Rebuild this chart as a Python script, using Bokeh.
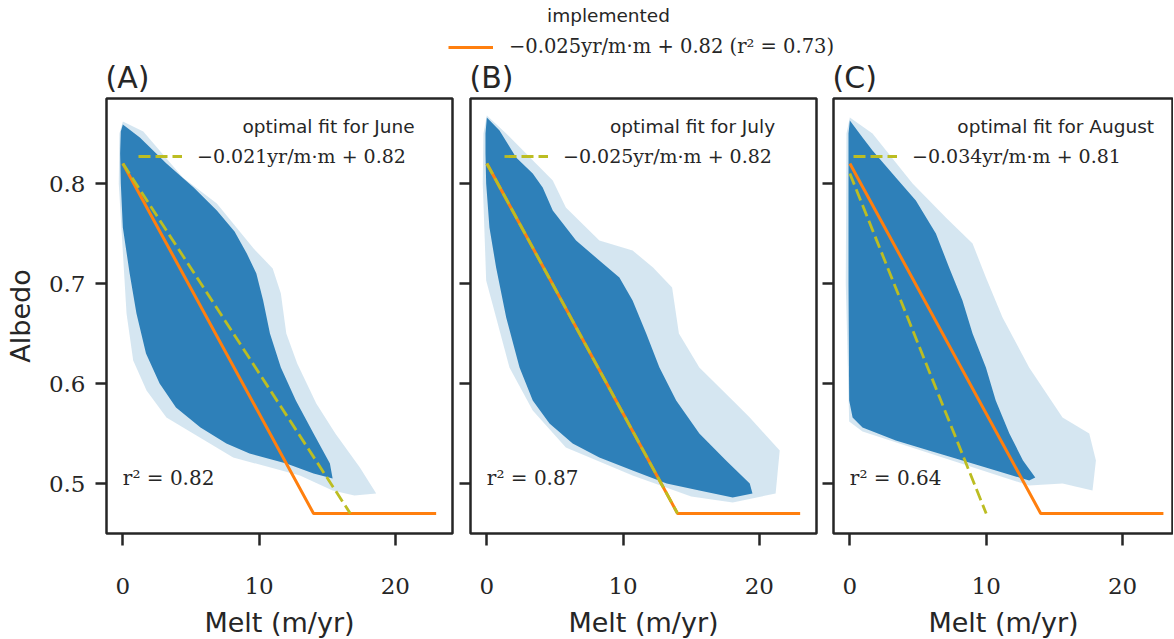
from bokeh.plotting import figure
from bokeh.layouts import row, column
from bokeh.models import Label, Legend, LegendItem, Range1d, FixedTicker
from bokeh.embed import file_html
from bokeh.resources import INLINE

# ---------------- data ----------------
panel_tags = ["(A)", "(B)", "(C)"]
months = ["June", "July", "August"]
r2_values = ["0.82", "0.87", "0.64"]
fit_labels = ["\u22120.021yr/m\u00b7m + 0.82", "\u22120.025yr/m\u00b7m + 0.82", "\u22120.034yr/m\u00b7m + 0.81"]
implemented_label = "\u22120.025yr/m\u00b7m + 0.82 (r\u00b2 = 0.73)"

# implemented parameterisation (orange)
impl_melt = [0, 14, 23]
impl_albedo = [0.82, 0.47, 0.47]

# optimal monthly fits (dashed)
fit_june_melt = [0, 16.7]
fit_june_albedo = [0.82, 0.47]
fit_july_melt = [0, 14.0]
fit_july_albedo = [0.82, 0.47]
fit_aug_melt = [0, 10.0]
fit_aug_albedo = [0.81, 0.47]

# outline of the dense part of each point cloud
core_june_melt = [-0.15, 0.0, 1.25, 3.2, 5.2, 6.9, 8.2, 9.1, 9.8, 10.3, 10.8, 11.6, 12.7, 14.0, 15.2, 15.4, 14.0, 12.0, 9.3, 7.6, 5.7, 3.9, 2.7, 1.7, 1.0, 0.5, 0.0, -0.15, -0.2]
core_june_albedo = [0.852, 0.859, 0.846, 0.820, 0.796, 0.773, 0.752, 0.730, 0.710, 0.683, 0.650, 0.616, 0.583, 0.550, 0.520, 0.505, 0.510, 0.520, 0.530, 0.540, 0.556, 0.576, 0.600, 0.630, 0.670, 0.710, 0.756, 0.800, 0.830]
# outline of the sparse halo of each point cloud
halo_june_melt = [-0.25, 0.0, 1.5, 4.4, 6.9, 9.6, 11.0, 11.6, 12.0, 12.8, 14.2, 15.6, 17.4, 18.6, 17.0, 15.4, 13.0, 8.1, 5.65, 3.2, 1.74, 0.76, 0.27, -0.3]
halo_june_albedo = [0.850, 0.862, 0.852, 0.806, 0.780, 0.735, 0.715, 0.690, 0.650, 0.620, 0.580, 0.550, 0.516, 0.490, 0.488, 0.493, 0.508, 0.526, 0.546, 0.566, 0.593, 0.623, 0.670, 0.800]

core_july_melt = [-0.1, 0.0, 0.93, 2.15, 3.37, 4.1, 4.84, 6.55, 8.26, 9.73, 10.7, 11.7, 12.67, 13.9, 15.6, 17.56, 19.3, 19.5, 18.05, 15.6, 13.2, 10.7, 8.26, 6.3, 4.6, 3.37, 2.4, 1.42, 0.68, 0.19, -0.05, -0.1]
core_july_albedo = [0.850, 0.866, 0.853, 0.826, 0.810, 0.796, 0.773, 0.743, 0.723, 0.706, 0.683, 0.650, 0.616, 0.583, 0.550, 0.523, 0.500, 0.490, 0.486, 0.493, 0.500, 0.513, 0.526, 0.540, 0.560, 0.583, 0.616, 0.666, 0.716, 0.756, 0.800, 0.830]
halo_july_melt = [-0.25, 0.0, 1.42, 4.84, 5.8, 8.26, 10.7, 12.2, 13.6, 14.1, 15.6, 18.05, 19.3, 21.5, 21.2, 18.05, 15.0, 10.7, 5.8, 3.37, 1.66, 0.68, -0.05, -0.3]
halo_july_albedo = [0.850, 0.868, 0.850, 0.803, 0.776, 0.743, 0.733, 0.716, 0.696, 0.650, 0.616, 0.583, 0.566, 0.533, 0.490, 0.481, 0.487, 0.508, 0.536, 0.573, 0.616, 0.666, 0.703, 0.800]

core_aug_melt = [-0.1, 0.0, 0.93, 1.66, 3.37, 4.84, 6.31, 7.28, 8.26, 9.0, 9.98, 10.7, 11.7, 12.7, 13.6, 13.15, 10.7, 8.26, 5.8, 3.37, 0.93, 0.2, -0.05, -0.1]
core_aug_albedo = [0.850, 0.863, 0.846, 0.833, 0.806, 0.783, 0.750, 0.716, 0.683, 0.650, 0.616, 0.583, 0.550, 0.523, 0.506, 0.503, 0.513, 0.523, 0.533, 0.543, 0.556, 0.566, 0.583, 0.700]
halo_aug_melt = [-0.25, 0.0, 1.66, 4.6, 7.04, 9.0, 9.98, 11.2, 13.15, 15.6, 17.56, 18.05, 17.8, 15.6, 13.15, 0.93, -0.05, -0.3]
halo_aug_albedo = [0.850, 0.866, 0.850, 0.800, 0.766, 0.740, 0.706, 0.666, 0.616, 0.566, 0.550, 0.523, 0.493, 0.500, 0.498, 0.552, 0.562, 0.700]

x_ticks = [0, 10, 20]
y_ticks = [0.5, 0.6, 0.7, 0.8]

# ---------------- styling ----------------
INK = "#262626"
BLUE = "#2e80b9"
ORANGE = "#ff7f0e"
OLIVE = "#bcbd22"
SANS = "DejaVu Sans"
SERIF = "DejaVu Serif"
TOP_H = 94          # height of the strip above the panels (legend + panel tags)
X0 = -1.2
Y0, Y1 = 0.45, 0.885

panels = [
    dict(core=(core_june_melt, core_june_albedo), halo=(halo_june_melt, halo_june_albedo),
         fit=(fit_june_melt, fit_june_albedo), left=106, right=4, fw=346, xend=24.2, leg_x=32, tag_x=105),
    dict(core=(core_july_melt, core_july_albedo), halo=(halo_july_melt, halo_july_albedo),
         fit=(fit_july_melt, fit_july_albedo), left=14, right=4, fw=346, xend=24.2, leg_x=34, tag_x=469),
    dict(core=(core_aug_melt, core_aug_albedo), halo=(halo_aug_melt, halo_aug_albedo),
         fit=(fit_aug_melt, fit_aug_albedo), left=13, right=0, fw=340, xend=23.74, leg_x=20, tag_x=832),
]

figs = []
for i, cfg in enumerate(panels):
    p = figure(frame_width=cfg["fw"], frame_height=435,
               x_range=Range1d(X0, cfg["xend"]), y_range=Range1d(Y0, Y1),
               output_backend="svg", toolbar_location=None, title=None,
               min_border_left=cfg["left"], min_border_right=cfg["right"],
               min_border_top=98 - TOP_H, min_border_bottom=100)
    p.background_fill_color = "white"
    p.border_fill_color = "white"
    p.outline_line_color = INK
    p.outline_line_width = 2.5
    p.xgrid.visible = False
    p.ygrid.visible = False

    # point cloud: sparse halo + dense core
    p.patch(cfg["halo"][0], cfg["halo"][1], fill_color=BLUE, fill_alpha=0.2, line_color=None)
    p.patch(cfg["core"][0], cfg["core"][1], fill_color=BLUE, fill_alpha=1.0, line_color=None)

    p.line(impl_melt, impl_albedo, line_color=ORANGE, line_width=3)
    fit_r = p.line(cfg["fit"][0], cfg["fit"][1], line_color=OLIVE, line_width=2.8, line_dash="12 5")

    # axes
    xa = p.xaxis[0]
    xa.ticker = FixedTicker(ticks=x_ticks)
    xa.axis_line_color = None
    xa.major_tick_out = 12
    xa.major_tick_in = 0
    xa.minor_tick_out = 0
    xa.minor_tick_in = 0
    xa.major_tick_line_color = INK
    xa.major_tick_line_width = 2.5
    xa.major_label_text_font = SERIF
    xa.major_label_text_font_size = "23px"
    xa.major_label_text_color = INK
    xa.major_label_standoff = 32
    xa.axis_label = "Melt (m/yr)"
    xa.axis_label_text_font = SANS
    xa.axis_label_text_font_size = "27px"
    xa.axis_label_text_font_style = "normal"
    xa.axis_label_text_color = INK
    xa.axis_label_standoff = 10

    ya = p.yaxis[0]
    ya.ticker = FixedTicker(ticks=y_ticks)
    ya.axis_line_color = None
    ya.major_tick_out = 11
    ya.major_tick_in = 0
    ya.minor_tick_out = 0
    ya.minor_tick_in = 0
    ya.major_tick_line_color = INK
    ya.major_tick_line_width = 2.5
    if i == 0:
        ya.major_label_text_font = SERIF
        ya.major_label_text_font_size = "23px"
        ya.major_label_text_color = INK
        ya.major_label_standoff = 10
        ya.axis_label = "Albedo"
        ya.axis_label_text_font = SANS
        ya.axis_label_text_font_size = "27px"
        ya.axis_label_text_font_style = "normal"
        ya.axis_label_text_color = INK
        ya.axis_label_standoff = 10
    else:
        ya.major_label_text_color = None
        ya.major_label_text_font_size = "1px"
        ya.major_label_standoff = 0

    # per-panel legend (dashed fit)
    leg = Legend(items=[LegendItem(label=fit_labels[i], renderers=[fit_r])],
                 location=(cfg["leg_x"], 366), padding=0, margin=0, spacing=0,
                 glyph_width=44, glyph_height=22, label_height=22, label_standoff=15,
                 label_text_font=SERIF, label_text_font_size="19px", label_text_color=INK,
                 border_line_color=None, background_fill_alpha=0.0)
    p.add_layout(leg)
    p.add_layout(Label(x=15.1, y=0.857, text="optimal fit for " + months[i], text_align="center",
                       text_baseline="middle", text_font=SANS, text_font_size="18.5px", text_color=INK))

    # r^2 annotation
    p.add_layout(Label(x=0.0, y=0.506, text="r\u00b2 = " + r2_values[i], text_align="left",
                       text_baseline="middle", text_font=SERIF, text_font_size="20px", text_color=INK))
    figs.append(p)

# ---------------- strip on top: figure-level legend and panel tags ----------------
top = figure(width=1173, height=TOP_H, x_range=Range1d(0, 1), y_range=Range1d(2, 3),
             output_backend="svg", toolbar_location=None, title=None,
             min_border_left=0, min_border_right=0, min_border_top=0, min_border_bottom=0,
             x_axis_location=None, y_axis_location=None)
top.outline_line_color = None
top.xgrid.visible = False
top.ygrid.visible = False
# the implemented line again (lies outside this strip's ranges, only feeds the legend)
impl_proxy = top.line(impl_melt, impl_albedo, line_color=ORANGE, line_width=3)
top_leg = Legend(items=[LegendItem(label=implemented_label, renderers=[impl_proxy])],
                 location=(448, TOP_H - 47 - 11), padding=0, margin=0, spacing=0,
                 glyph_width=45, glyph_height=22, label_height=22, label_standoff=16,
                 label_text_font=SERIF, label_text_font_size="19.5px", label_text_color=INK,
                 border_line_color=None, background_fill_alpha=0.0)
top.add_layout(top_leg)
top.add_layout(Label(x=608, y=TOP_H - 15, x_units="screen", y_units="screen", text="implemented",
                     text_align="center", text_baseline="middle", text_font=SANS,
                     text_font_size="18.5px", text_color=INK))
for i, cfg in enumerate(panels):
    top.add_layout(Label(x=cfg["tag_x"], y=TOP_H - 76.5, x_units="screen", y_units="screen",
                         text=panel_tags[i], text_align="left", text_baseline="middle",
                         text_font=SANS, text_font_size="30px", text_color=INK))

layout = column(top, row(*figs, spacing=0), spacing=0)
open("out.html", "w").write(file_html(layout, INLINE))
